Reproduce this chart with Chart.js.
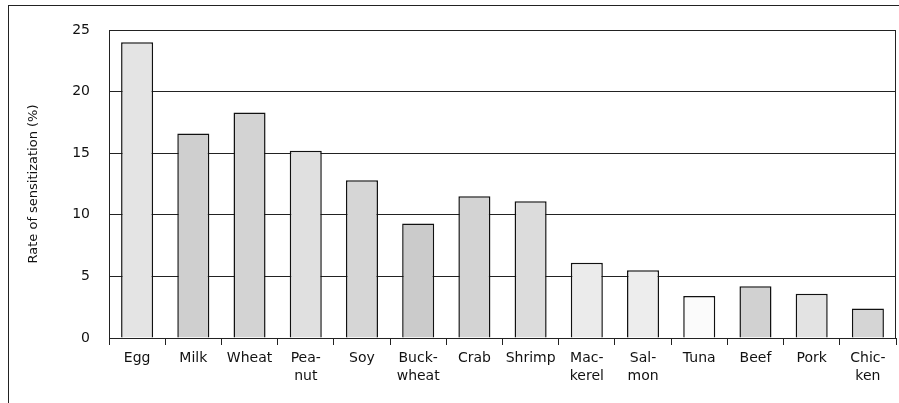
<!DOCTYPE html>
<html>
<head>
<meta charset="utf-8">
<script src="https://cdn.jsdelivr.net/npm/chart.js@4"></script>
<style>
  html, body { margin: 0; padding: 0; background: #fff; }
  #wrap { position: relative; width: 899px; height: 403px; overflow: hidden; }
  #frame { position: absolute; left: 8px; top: 5px; width: 1000px; height: 500px; border: 1px solid #222; }
  #chart { position: absolute; left: 0; top: 0; }
</style>
</head>
<body>
<div id="wrap">
  <div id="frame"></div>
  <canvas id="chart" width="899" height="403"></canvas>
</div>
<script>
// food categories (multi-line where the original hyphenates)
const categories = [['Egg'], ['Milk'], ['Wheat'], ['Pea-', 'nut'], ['Soy'], ['Buck-', 'wheat'], ['Crab'],
    ['Shrimp'], ['Mac-', 'kerel'], ['Sal-', 'mon'], ['Tuna'], ['Beef'], ['Pork'], ['Chic-', 'ken']];
// rate of sensitization (%)
const rates = [24.0, 16.6, 18.3, 15.2, 12.8, 9.3, 11.5, 11.1, 6.1, 5.5, 3.4, 4.2, 3.6, 2.4];
const yTicks = [0, 5, 10, 15, 20, 25];

// grey shade of each stippled bar
const barGreys = ['#e4e4e4', '#cfcfcf', '#d3d3d3', '#e0e0e0', '#d6d6d6', '#cbcbcb', '#d3d3d3',
    '#dcdcdc', '#ebebeb', '#ededed', '#fbfbfb', '#d1d1d1', '#e3e3e3', '#d5d5d5'];

const font = "'DejaVu Sans', sans-serif";

// draws the right-hand edge of the plot box
const plotBox = {
    id: 'plotBox',
    afterDraw(chart) {
        const { ctx, chartArea } = chart;
        ctx.save();
        ctx.strokeStyle = '#222';
        ctx.lineWidth = 1;
        ctx.beginPath();
        ctx.moveTo(Math.round(chartArea.right) - 0.5, chartArea.top);
        ctx.lineTo(Math.round(chartArea.right) - 0.5, chartArea.bottom);
        ctx.stroke();
        ctx.restore();
    }
};

new Chart(document.getElementById('chart'), {
    type: 'bar',
    data: {
        labels: categories,
        datasets: [{
            data: rates,
            backgroundColor: barGreys,
            borderColor: '#111',
            borderWidth: 1.5,
            barPercentage: 0.57,
            categoryPercentage: 1
        }]
    },
    options: {
        responsive: false,
        animation: false,
        layout: { padding: { left: 0, top: 30, right: 3, bottom: 0 } },
        plugins: { legend: { display: false }, tooltip: { enabled: false } },
        scales: {
            x: {
                afterFit: (scale) => { scale.height = 65; },
                grid: { drawOnChartArea: false, drawTicks: true, tickLength: 7, color: '#222', offset: true },
                border: { color: '#222', width: 1 },
                ticks: { color: '#111', padding: 4, maxRotation: 0, autoSkip: false,
                    font: { family: font, size: 14, lineHeight: 1.3 } }
            },
            y: {
                min: 0,
                max: 25,
                afterFit: (scale) => { scale.width = 109; },
                afterBuildTicks: (scale) => { scale.ticks = yTicks.map(v => ({ value: v })); },
                grid: { color: '#222', drawTicks: false },
                border: { color: '#222', width: 1 },
                ticks: { color: '#111', padding: 19, font: { family: font, size: 14 } },
                title: {
                    display: true,
                    text: 'Rate of sensitization (%)',
                    color: '#111',
                    padding: { top: 26, bottom: 0 },
                    font: { family: font, size: 13 }
                }
            }
        }
    },
    plugins: [plotBox]
});
</script>
</body>
</html>
